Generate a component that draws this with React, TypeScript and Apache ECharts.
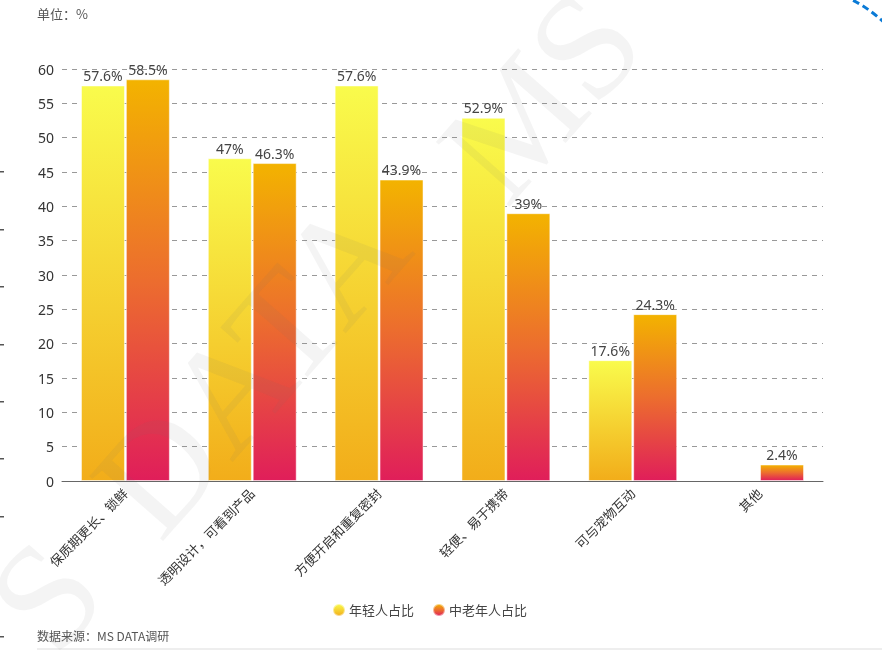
import React, { useEffect, useRef } from "react";
import * as echarts from "echarts";

const categories = [
  "保质期更长、锁鲜",
  "透明设计，可看到产品",
  "方便开启和重复密封",
  "轻便、易于携带",
  "可与宠物互动",
  "其他",
];
const youngValues: (number | null)[] = [57.6, 47, 57.6, 52.9, 17.6, null];
const olderValues: number[] = [58.5, 46.3, 43.9, 39, 24.3, 2.4];
const seriesNames = ["年轻人占比", "中老年人占比"];
const yTicks = { min: 0, max: 60, interval: 5 };

const leftMarks = [172, 230, 287, 345, 402, 459, 517, 637];

export default function App() {
  const ref = useRef<HTMLDivElement>(null);
  useEffect(() => {
    if (!ref.current) return;
    const chart = echarts.init(ref.current, undefined, { renderer: "svg" });
    const youngGrad = new echarts.graphic.LinearGradient(0, 0, 0, 1, [
      { offset: 0, color: "#f9fb4c" },
      { offset: 1, color: "#f2ad1a" },
    ]);
    const oldGrad = new echarts.graphic.LinearGradient(0, 0, 0, 1, [
      { offset: 0, color: "#f3b300" },
      { offset: 0.5, color: "#ec6d2e" },
      { offset: 1, color: "#e01e5a" },
    ]);
    const wmStyle = {
      fill: "rgba(110,110,110,0.08)",
      font: "150px 'Liberation Serif', serif",
      textAlign: "center",
      textVerticalAlign: "middle",
    };
    const labelCfg = {
      show: true,
      position: "top",
      distance: 3,
      formatter: "{c}%",
      color: "#444",
      fontSize: 14,
    };
    chart.setOption({
      animation: false,
      textStyle: { fontFamily: "'Noto Sans', 'Noto Sans CJK SC', sans-serif" },
      grid: { left: 62, right: 59, top: 69, bottom: 179, containLabel: false },
      legend: {
        top: 598,
        left: 327,
        icon: "circle",
        itemWidth: 12,
        itemHeight: 12,
        itemGap: 18,
        textStyle: { color: "#444", fontSize: 13, padding: [0, 0, 0, -1] },
        data: seriesNames,
      },
      xAxis: {
        type: "category",
        data: categories,
        axisLine: { lineStyle: { color: "#666" } },
        axisTick: { alignWithLabel: true, length: 4, lineStyle: { color: "#666" } },
        axisLabel: {
          rotate: 45,
          interval: 0,
          color: "#333",
          fontSize: 13,
          margin: 10,
        },
      },
      yAxis: {
        type: "value",
        min: yTicks.min,
        max: yTicks.max,
        interval: yTicks.interval,
        axisLine: { show: false },
        axisTick: { show: false },
        axisLabel: { color: "#333", fontSize: 14, margin: 8 },
        splitLine: { lineStyle: { type: [5, 5], color: "#999", width: 1 } },
      },
      series: [
        {
          name: seriesNames[0],
          type: "bar",
          data: youngValues,
          barWidth: 44,
          barGap: "2%",
          itemStyle: { color: youngGrad, borderColor: "rgba(255,255,255,0.5)", borderWidth: 1 },
          label: labelCfg,
        },
        {
          name: seriesNames[1],
          type: "bar",
          data: olderValues,
          barWidth: 44,
          itemStyle: { color: oldGrad, borderColor: "rgba(255,255,255,0.5)", borderWidth: 1 },
          label: labelCfg,
        },
      ],
      graphic: [
        {
          type: "text",
          left: 37,
          top: 7,
          style: { text: "单位：%", fill: "#555", font: "13px 'Noto Sans CJK SC', sans-serif" },
        },
        {
          type: "text",
          left: 37,
          top: 629,
          style: { text: "数据来源：MS DATA调研", fill: "#555", font: "12px 'Noto Sans CJK SC', sans-serif" },
        },
        {
          type: "line",
          shape: { x1: 37, y1: 649, x2: 882, y2: 649 },
          style: { stroke: "#ddd", lineWidth: 1 },
        },
        ...leftMarks.map((y) => ({
          type: "rect",
          shape: { x: 0, y: y - 1, width: 4, height: 1.5 },
          style: { fill: "#555" },
        })),
        {
          type: "bezierCurve",
          shape: { x1: 843, y1: -4, cpx1: 863, cpy1: 3, x2: 886, y2: 24 },
          style: { stroke: "#0a7ad6", lineWidth: 3, lineDash: [7, 4], fill: null },
        },
        {
          type: "text",
          x: 250,
          y: 365,
          rotation: 0.85,
          z: 100,
          silent: true,
          style: { ...wmStyle, text: "DATA" },
        },
        {
          type: "text",
          x: 540,
          y: 95,
          rotation: 0.85,
          z: 100,
          silent: true,
          style: { ...wmStyle, text: "MS" },
        },
        {
          type: "text",
          x: 45,
          y: 595,
          rotation: 0.85,
          z: 100,
          silent: true,
          style: { ...wmStyle, text: "S" },
        },
      ],
    });
    return () => chart.dispose();
  }, []);
  return (
    <div
      ref={ref}
      style={{ position: "fixed", left: 0, top: 0, width: 882, height: 660 }}
    />
  );
}
